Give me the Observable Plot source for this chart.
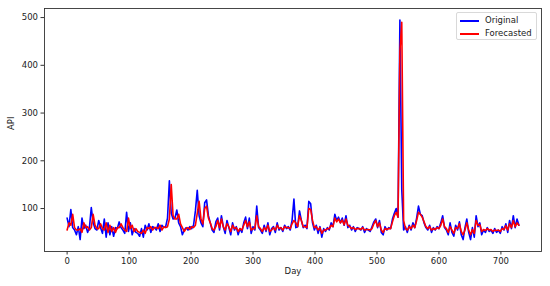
<!DOCTYPE html>
<html>
<head>
<meta charset="utf-8">
<script src="https://cdn.jsdelivr.net/npm/d3@7"></script>
<script src="https://cdn.jsdelivr.net/npm/@observablehq/plot@0.6"></script>
<style>
  html, body { margin: 0; padding: 0; background: #fff; }
  #wrap { position: relative; width: 550px; height: 286px; font-family: "DejaVu Sans", sans-serif; }
  #legend { position: absolute; left: 456px; top: 12px; width: 81px; height: 28px; box-sizing: border-box;
            border: 1px solid #d9d9d9; border-radius: 2px; background: rgba(255,255,255,0.85);
            font-size: 8.5px; color: #222; }
  .row { position: absolute; left: 0; height: 12px; line-height: 12px; white-space: nowrap; }
  .sw { position: absolute; left: 3px; width: 19px; height: 1.5px; top: 6px; }
  .lb { position: absolute; left: 28px; top: 0; }
</style>
</head>
<body>
<div id="wrap">
  <div id="chart"></div>
  <div id="legend">
    <div class="row" style="top:1px"><div class="sw" style="background:#0000ff"></div><span class="lb">Original</span></div>
    <div class="row" style="top:14px"><div class="sw" style="background:#ff0000"></div><span class="lb">Forecasted</span></div>
  </div>
</div>
<script>
// Day step between samples (day index = i * step)
const step = 3;

// Original API values (every 3 days, days 0..729)
const original = [
  80, 62, 98, 60, 55, 45, 62, 35, 80, 58,
  65, 50, 60, 102, 70, 58, 55, 75, 60, 48,
  78, 40, 70, 45, 62, 42, 60, 58, 72, 60,
  55, 48, 92, 52, 70, 45, 58, 50, 48, 42,
  58, 40, 65, 55, 68, 50, 62, 60, 55, 68,
  52, 65, 60, 62, 80, 158, 90, 78, 80, 97,
  70, 62, 45, 55, 60, 55, 62, 58, 65, 95,
  138, 85, 70, 62, 112, 118, 85, 70, 55, 50,
  72, 80, 55, 85, 62, 48, 75, 60, 45, 70,
  55, 62, 45, 58, 50, 70, 82, 58, 80, 48,
  62, 55, 105, 60, 55, 48, 65, 52, 70, 45,
  58, 62, 50, 70, 55, 60, 52, 65, 58, 62,
  55, 75, 120, 60, 62, 95, 75, 60, 65, 58,
  115, 110, 70, 55, 65, 48, 62, 40, 58, 52,
  60, 55, 70, 62, 88, 75, 82, 70, 80, 65,
  85, 60, 65, 55, 62, 52, 60, 58, 55, 62,
  50, 58, 55, 52, 62, 72, 78, 60, 75, 50,
  45, 62, 55, 60, 58, 78, 90, 100, 82, 495,
  140, 55, 62, 50, 65, 55, 70, 60, 80, 105,
  88, 85, 70, 60, 55, 65, 50, 60, 55, 62,
  58, 70, 85, 60, 55, 45, 70, 50, 42, 65,
  55, 72, 45, 35, 60, 78, 50, 35, 60, 40,
  85, 62, 70, 45, 55, 50, 60, 52, 55, 48,
  58, 50, 55, 48, 62, 55, 68, 50, 75, 58,
  85, 60, 78, 65
];

// Forecasted API values (same days)
const forecasted = [
  55, 70, 65, 88, 60, 55, 55, 58, 50, 70,
  60, 62, 55, 60, 88, 65, 58, 58, 68, 58,
  55, 70, 50, 65, 52, 60, 50, 60, 60, 68,
  60, 55, 52, 80, 58, 65, 52, 58, 52, 50,
  48, 55, 48, 60, 58, 62, 55, 60, 60, 58,
  65, 55, 62, 60, 62, 78, 150, 85, 78, 78,
  88, 68, 60, 52, 58, 60, 56, 62, 60, 65,
  90, 115, 78, 68, 100, 105, 80, 70, 58, 55,
  62, 75, 60, 78, 62, 55, 68, 62, 52, 65,
  58, 60, 52, 58, 55, 65, 75, 62, 72, 55,
  58, 58, 85, 62, 58, 52, 60, 55, 65, 52,
  55, 60, 55, 65, 58, 60, 55, 62, 60, 60,
  58, 68, 75, 70, 62, 85, 75, 62, 62, 60,
  100, 98, 75, 60, 62, 55, 60, 48, 55, 55,
  58, 58, 65, 62, 80, 72, 78, 70, 76, 66,
  78, 65, 62, 58, 60, 56, 58, 58, 56, 60,
  55, 56, 56, 55, 58, 68, 75, 62, 70, 55,
  50, 58, 56, 58, 58, 72, 85, 92, 82, 430,
  490, 75, 58, 55, 62, 58, 65, 60, 75, 92,
  88, 82, 72, 62, 58, 62, 55, 58, 56, 60,
  58, 65, 78, 62, 58, 50, 62, 55, 48, 60,
  58, 68, 52, 45, 55, 70, 55, 45, 56, 48,
  75, 65, 66, 52, 56, 54, 58, 55, 56, 52,
  55, 54, 55, 52, 58, 56, 64, 55, 68, 60,
  75, 62, 70, 65
];

const xTicks = [0, 100, 200, 300, 400, 500, 600, 700];
const yTicks = [100, 200, 300, 400, 500];

const rows = original.map((v, i) => ({day: i * step, original: v, forecasted: forecasted[i]}));

const axisColor = "#333";

const chart = Plot.plot({
  width: 550,
  height: 286,
  marginLeft: 44,
  marginTop: 8,
  marginRight: 9,
  marginBottom: 35,
  style: {fontFamily: "DejaVu Sans, sans-serif", fontSize: "8.5px", color: "#222", background: "#fff"},
  x: {domain: [-36.5, 765.5]},
  y: {domain: [10, 519]},
  marks: [
    Plot.line(rows, {x: "day", y: "original", stroke: "#0000ff", strokeWidth: 1.6}),
    Plot.line(rows, {x: "day", y: "forecasted", stroke: "#ff0000", strokeWidth: 1.6}),
    Plot.frame({stroke: axisColor, strokeWidth: 0.9}),
    Plot.axisX({ticks: xTicks, tickSize: 3.5, tickPadding: 2.5, stroke: axisColor, label: null}),
    Plot.axisY({ticks: yTicks, tickSize: 3.5, tickPadding: 3, stroke: axisColor, label: null}),
    Plot.text(["Day"], {frameAnchor: "bottom", dy: 22, fill: "#222"}),
    Plot.text(["API"], {frameAnchor: "left", dx: -33, rotate: -90, fill: "#222"})
  ]
});

document.getElementById("chart").appendChild(chart);
</script>
</body>
</html>
